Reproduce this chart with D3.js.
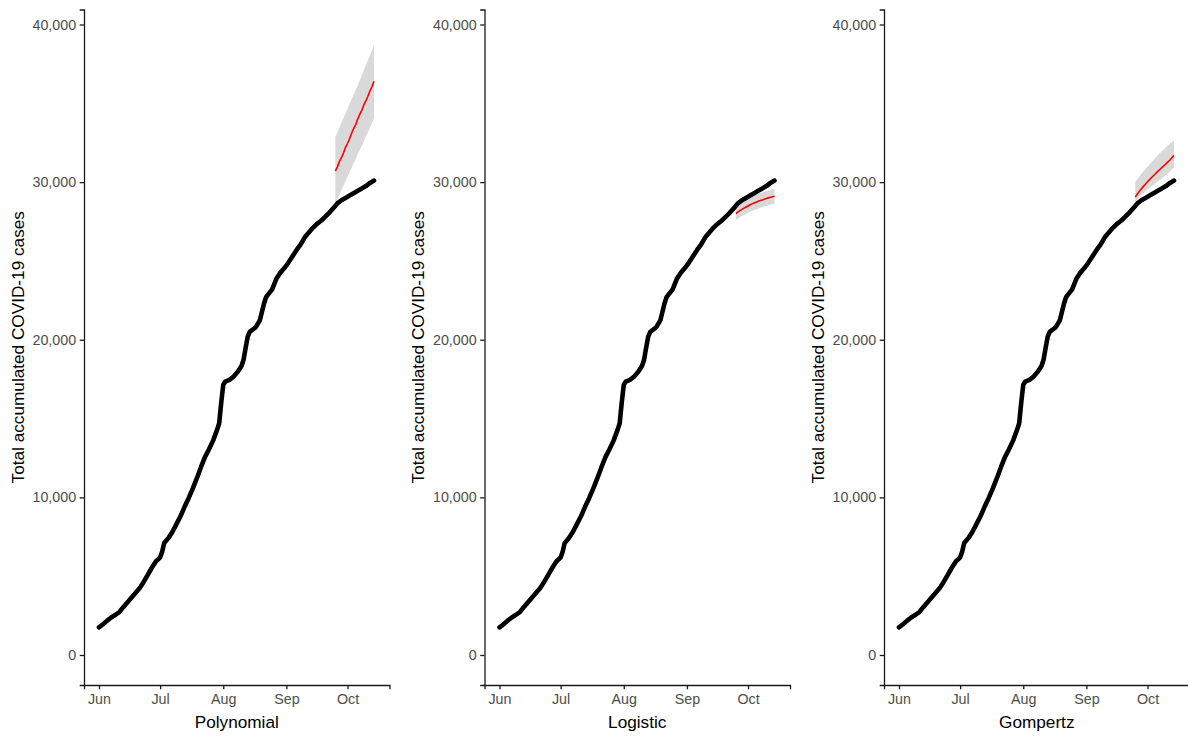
<!DOCTYPE html>
<html>
<head>
<meta charset="utf-8">
<script src="https://cdn.jsdelivr.net/npm/d3@7"></script>
<style>
    body { margin: 0; background: #fff; }
    svg { display: block; font-family: "Liberation Sans", Arial, sans-serif; }
    .tick text { fill: #4d4d4d; font-size: 14.3px; font-family: "Liberation Sans", Arial, sans-serif; }
    .axis path, .axis line { stroke: #1a1a1a; stroke-width: 1.3px; }
    .axis-title { fill: #000; font-size: 17.2px; font-family: "Liberation Sans", Arial, sans-serif; }
</style>
</head>
<body>
<svg id="chart" width="1188" height="736"></svg>
<script>
// Observed accumulated cases (same for all three panels)
const actualDates = [
    '2020-06-01', '2020-06-03', '2020-06-05', '2020-06-07', '2020-06-09', '2020-06-11', '2020-06-13', '2020-06-15',
    '2020-06-17', '2020-06-19', '2020-06-21', '2020-06-23', '2020-06-25', '2020-06-27', '2020-06-29', '2020-07-01',
    '2020-07-02', '2020-07-03', '2020-07-05', '2020-07-07', '2020-07-09', '2020-07-11', '2020-07-13', '2020-07-15',
    '2020-07-17', '2020-07-19', '2020-07-21', '2020-07-23', '2020-07-25', '2020-07-27', '2020-07-29', '2020-07-30',
    '2020-07-31', '2020-08-01', '2020-08-02', '2020-08-04', '2020-08-06', '2020-08-08', '2020-08-09', '2020-08-10',
    '2020-08-11', '2020-08-12', '2020-08-13', '2020-08-14', '2020-08-16', '2020-08-17', '2020-08-19', '2020-08-21',
    '2020-08-22', '2020-08-25', '2020-08-27', '2020-08-29', '2020-08-31', '2020-09-02', '2020-09-04', '2020-09-06',
    '2020-09-08', '2020-09-10', '2020-09-12', '2020-09-14', '2020-09-16', '2020-09-18', '2020-09-20', '2020-09-22',
    '2020-09-24', '2020-09-26', '2020-09-28', '2020-09-30', '2020-10-02', '2020-10-04', '2020-10-06', '2020-10-08',
    '2020-10-10', '2020-10-12', '2020-10-14'
]
const actualCases = [
    1750, 1950, 2180, 2380, 2550, 2720, 3050, 3350,
    3650, 3950, 4250, 4650, 5100, 5550, 5950, 6180,
    6550, 7100, 7400, 7800, 8300, 8800, 9400, 9950,
    10550, 11200, 11900, 12550, 13050, 13600, 14300, 14700,
    16000, 17150, 17350, 17450, 17650, 17950, 18150, 18350,
    18750, 19500, 20200, 20500, 20700, 20800, 21250, 22300,
    22700, 23200, 23850, 24250, 24550, 24900, 25300, 25700,
    26050, 26500, 26800, 27100, 27350, 27550, 27800, 28050,
    28350, 28650, 28850, 29000, 29150, 29300, 29450, 29600,
    29750, 29950, 30100
]

// Forecast window
const forecastDates = [
    '2020-09-25', '2020-09-26', '2020-09-27', '2020-09-28', '2020-09-29', '2020-09-30', '2020-10-01',
    '2020-10-02', '2020-10-03', '2020-10-04', '2020-10-05', '2020-10-06', '2020-10-07', '2020-10-08',
    '2020-10-09', '2020-10-10', '2020-10-11', '2020-10-12', '2020-10-13', '2020-10-14'
]

const polyFit = [30700, 30950, 31300, 31550, 31850, 32200, 32450, 32750, 33100, 33400, 33650, 34000, 34300, 34550, 34900, 35150, 35450, 35800, 36050, 36400]
const polyLower = [28650, 28900, 29200, 29500, 29750, 30050, 30350, 30650, 30900, 31200, 31450, 31750, 32050, 32300, 32600, 32900, 33150, 33450, 33750, 34050]
const polyUpper = [32850, 33150, 33450, 33750, 34050, 34350, 34650, 34950, 35250, 35550, 35850, 36150, 36450, 36800, 37100, 37400, 37750, 38050, 38350, 38700]

const logFit = [28000, 28100, 28190, 28270, 28350, 28420, 28490, 28560, 28620, 28680, 28730, 28780, 28830, 28870, 28920, 28960, 29000, 29040, 29070, 29100]
const logLower = [27580, 27680, 27770, 27850, 27920, 27990, 28050, 28120, 28170, 28230, 28270, 28320, 28370, 28400, 28450, 28490, 28530, 28570, 28600, 28630]
const logUpper = [28420, 28520, 28610, 28690, 28780, 28850, 28930, 29000, 29070, 29130, 29190, 29240, 29290, 29340, 29390, 29430, 29470, 29510, 29540, 29570]

const gompFit = [29060, 29250, 29420, 29580, 29730, 29880, 30020, 30160, 30290, 30420, 30550, 30680, 30800, 30920, 31040, 31160, 31280, 31400, 31550, 31700]
const gompLower = [28740, 28900, 29040, 29170, 29290, 29410, 29520, 29630, 29740, 29840, 29940, 30040, 30140, 30240, 30340, 30450, 30560, 30680, 30820, 30960]
const gompUpper = [30010, 30200, 30370, 30530, 30680, 30830, 30980, 31130, 31270, 31410, 31550, 31690, 31830, 31960, 32090, 32210, 32330, 32440, 32550, 32650]

const panelNames = ['Polynomial', 'Logistic', 'Gompertz']
const yTicks = [0, 10000, 20000, 30000, 40000]

const parse = d3.utcParse('%Y-%m-%d')
const actual = actualDates.map((d, i) => ({ date: parse(d), value: actualCases[i] }))
const fd = forecastDates.map(parse)
const makeForecast = (fit, lo, hi) => fd.map((d, i) => ({ date: d, fit: fit[i], lo: lo[i], hi: hi[i] }))
const forecasts = [
    makeForecast(polyFit, polyLower, polyUpper),
    makeForecast(logFit, logLower, logUpper),
    makeForecast(gompFit, gompLower, gompUpper)
]

const svg = d3.select('#chart')
const PANEL_LEFT = [84, 484.5, 884]
const PANEL_WIDTH = 305.5
const TOP = 9.5, BOTTOM = 685
const TICK = 4.3

// x domain padded a little around the data, like ggplot does
const DAY = 864e5
const xDomain = [new Date(parse('2020-06-01') - 7.36 * DAY), new Date(+parse('2020-10-14') + 7.6 * DAY)]
// y: 0 at 655, 40000 at 24.5
const yPerUnit = (655 - 24.5) / 40000
const y = d3.scaleLinear()
    .domain([-(BOTTOM - 655) / yPerUnit, 40000 + (24.5 - TOP) / yPerUnit])
    .range([BOTTOM, TOP])

panelNames.forEach((name, k) => {
    const left = PANEL_LEFT[k]
    const x = d3.scaleUtc().domain(xDomain).range([0, PANEL_WIDTH])
    const g = svg.append('g').attr('transform', `translate(${left},0)`)

    // Ribbon and forecast
    const fc = forecasts[k]
    g.append('path')
        .datum(fc)
        .attr('fill', '#d9d9d9')
        .attr('d', d3.area().x(d => x(d.date)).y0(d => y(d.lo)).y1(d => y(d.hi)))

    // Observed cases
    g.append('path')
        .datum(actual)
        .attr('fill', 'none')
        .attr('stroke', '#000')
        .attr('stroke-width', 4.6)
        .attr('stroke-linejoin', 'round')
        .attr('stroke-linecap', 'round')
        .attr('d', d3.line().x(d => x(d.date)).y(d => y(d.value)))

    g.append('path')
        .datum(fc)
        .attr('fill', 'none')
        .attr('stroke', '#ff0000')
        .attr('stroke-width', 1.6)
        .attr('d', d3.line().x(d => x(d.date)).y(d => y(d.fit)))

    // Axes
    const xAxis = d3.axisBottom(x)
        .ticks(d3.utcMonth.every(1))
        .tickFormat(d3.utcFormat('%b'))
        .tickSizeOuter(0)
        .tickSize(TICK)
        .tickPadding(3.5)
    g.append('g')
        .attr('class', 'axis')
        .attr('transform', `translate(0,${BOTTOM})`)
        .call(xAxis)
        .call(s => s.selectAll('.tick text').attr('dy', '0.8em'))

    const yAxis = d3.axisLeft(y)
        .tickValues(yTicks)
        .tickFormat(d3.format(','))
        .tickSizeOuter(0)
        .tickSize(TICK)
        .tickPadding(3.5)
    g.append('g')
        .attr('class', 'axis')
        .call(yAxis)

    // Titles
    g.append('text')
        .attr('class', 'axis-title')
        .attr('x', PANEL_WIDTH / 2)
        .attr('y', 727.5)
        .attr('text-anchor', 'middle')
        .text(name)

    g.append('text')
        .attr('class', 'axis-title')
        .attr('transform', `translate(-66.5,${(TOP + BOTTOM) / 2}) rotate(-90)`)
        .attr('text-anchor', 'middle')
        .attr('dy', '0.35em')
        .text('Total accumulated COVID-19 cases')
})
</script>
</body>
</html>
